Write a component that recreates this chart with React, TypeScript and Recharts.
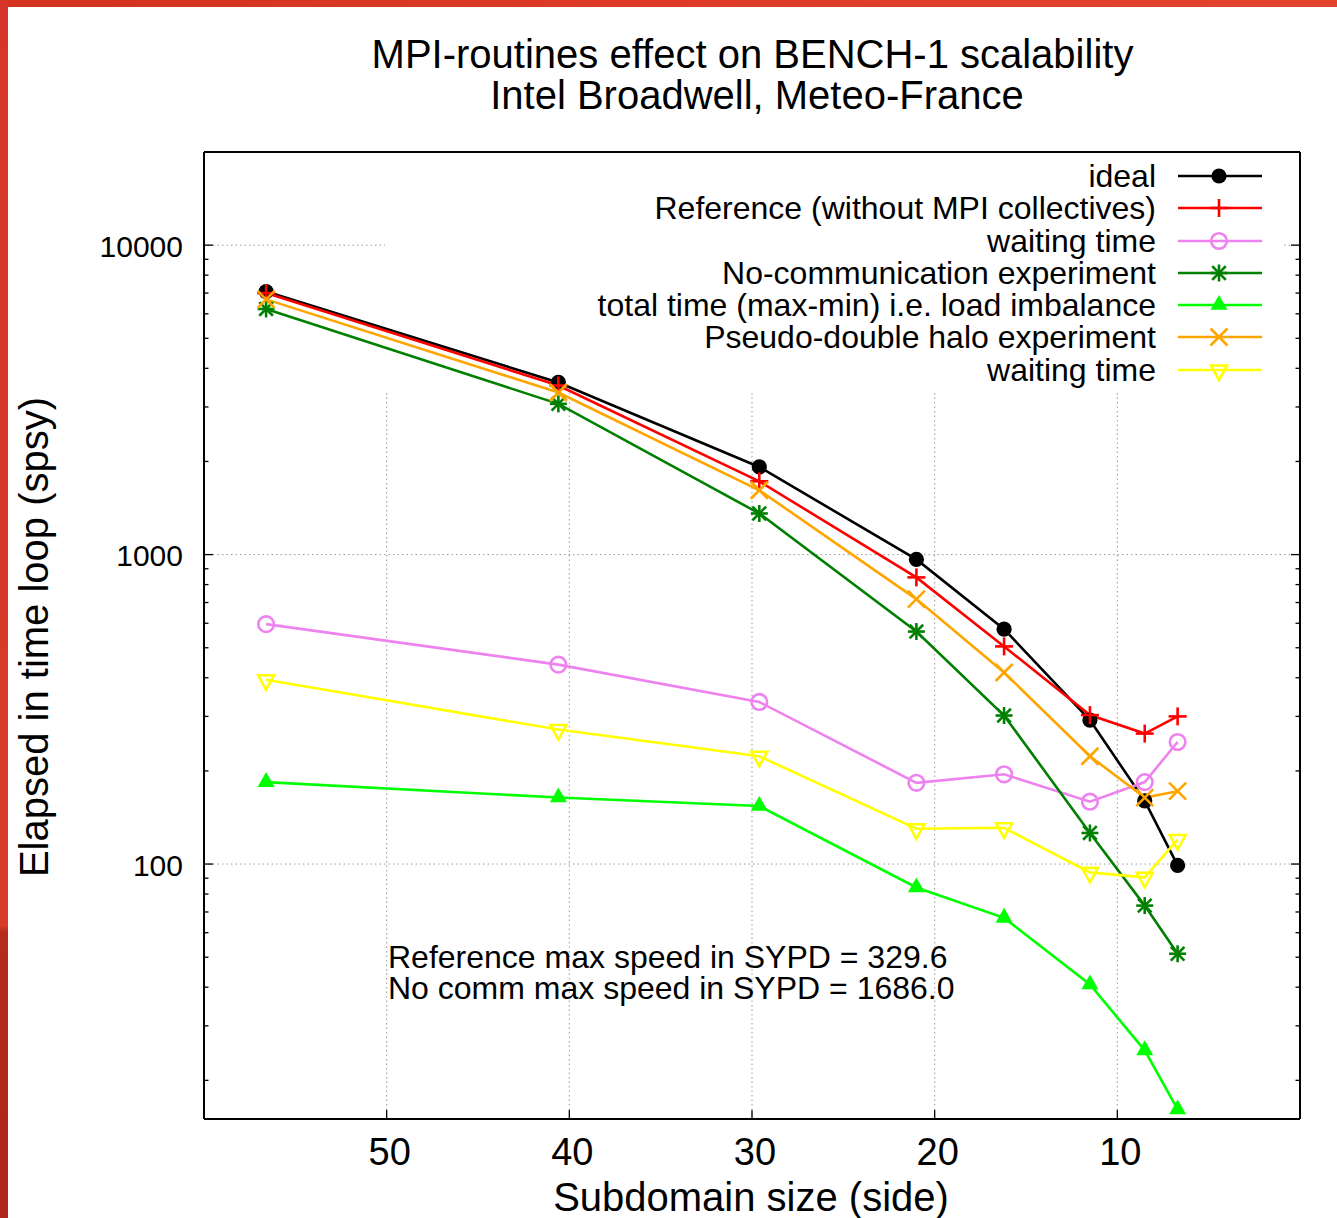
import React from 'react';
import { LineChart, Line, XAxis, YAxis, ReferenceLine, ReferenceArea, Legend } from 'recharts';

// ---- Data ----
const subdomainSide = [56.6, 40.6, 29.6, 21.0, 16.2, 11.5, 8.5, 6.7];
const idealTimes = [7080, 3600, 1920, 965, 574, 292, 160, 99];
const referenceTimes = [7000, 3520, 1725, 844, 505, 303, 264, 300];
const referenceWaiting = [596, 441, 334, 183, 195, 159, 184, 248];
const noCommTimes = [6220, 3070, 1358, 564, 302, 126, 73.4, 51.3];
const loadImbalance = [184, 164, 154, 84, 67, 40.8, 25.0, 16.1];
const haloTimes = [6680, 3340, 1614, 718, 416, 223, 164, 172];
const haloWaiting = [394, 272, 223, 130, 131, 94, 90.6, 120];

const xTicks = [10, 20, 30, 40, 50];
const yMajorTicks = [100, 1000, 10000];
const yAllTicks = [
  20, 30, 40, 50, 60, 70, 80, 90,
  100, 200, 300, 400, 500, 600, 700, 800, 900,
  1000, 2000, 3000, 4000, 5000, 6000, 7000, 8000, 9000,
  10000,
];

const titleLines = ['MPI-routines effect on BENCH-1 scalability', 'Intel Broadwell, Meteo-France'];
const xLabel = 'Subdomain size (side)';
const yLabel = 'Elapsed in time loop (spsy)';
const notes = ['Reference max speed in SYPD = 329.6', 'No comm max speed in SYPD = 1686.0'];

type MarkerType = 'dot' | 'plus' | 'circle' | 'star' | 'triUp' | 'cross' | 'triDown';

const series: { key: string; name: string; color: string; marker: MarkerType }[] = [
  { key: 'ideal', name: 'ideal', color: '#000000', marker: 'dot' },
  { key: 'reference', name: 'Reference (without MPI collectives)', color: '#ff0000', marker: 'plus' },
  { key: 'refWait', name: 'waiting time', color: '#ee82ee', marker: 'circle' },
  { key: 'noComm', name: 'No-communication experiment', color: '#008000', marker: 'star' },
  { key: 'imbalance', name: 'total time (max-min) i.e. load imbalance', color: '#00ff00', marker: 'triUp' },
  { key: 'halo', name: 'Pseudo-double halo experiment', color: '#ffa500', marker: 'cross' },
  { key: 'haloWait', name: 'waiting time', color: '#ffff00', marker: 'triDown' },
];

const data = subdomainSide.map((x, i) => ({
  x,
  ideal: idealTimes[i],
  reference: referenceTimes[i],
  refWait: referenceWaiting[i],
  noComm: noCommTimes[i],
  imbalance: loadImbalance[i],
  halo: haloTimes[i],
  haloWait: haloWaiting[i],
}));

const FONT = "'Liberation Sans', Arial, Helvetica, sans-serif";
const SW = 2.6;

function Marker({ type, cx, cy, color }: { type: MarkerType; cx?: number; cy?: number; color: string }) {
  if (cx == null || cy == null || isNaN(cx) || isNaN(cy)) return null;
  const h = 8.5;
  switch (type) {
    case 'dot':
      return <circle cx={cx} cy={cy} r={7.6} fill={color} />;
    case 'plus':
      return (
        <g stroke={color} strokeWidth={SW}>
          <line x1={cx - 9} y1={cy} x2={cx + 9} y2={cy} />
          <line x1={cx} y1={cy - 9} x2={cx} y2={cy + 9} />
        </g>
      );
    case 'circle':
      return <circle cx={cx} cy={cy} r={7.8} fill="none" stroke={color} strokeWidth={SW} />;
    case 'cross':
      return (
        <g stroke={color} strokeWidth={SW}>
          <line x1={cx - h} y1={cy - h} x2={cx + h} y2={cy + h} />
          <line x1={cx - h} y1={cy + h} x2={cx + h} y2={cy - h} />
        </g>
      );
    case 'star':
      return (
        <g stroke={color} strokeWidth={SW}>
          <line x1={cx - h} y1={cy} x2={cx + h} y2={cy} />
          <line x1={cx} y1={cy - h} x2={cx} y2={cy + h} />
          <line x1={cx - h * 0.8} y1={cy - h * 0.8} x2={cx + h * 0.8} y2={cy + h * 0.8} />
          <line x1={cx - h * 0.8} y1={cy + h * 0.8} x2={cx + h * 0.8} y2={cy - h * 0.8} />
        </g>
      );
    case 'triUp':
      return <polygon points={`${cx},${cy - 10} ${cx - 8.5},${cy + 4.8} ${cx + 8.5},${cy + 4.8}`} fill={color} />;
    case 'triDown':
      return (
        <polygon
          points={`${cx},${cy + 10} ${cx - 8},${cy - 4.5} ${cx + 8},${cy - 4.5}`}
          fill="none"
          stroke={color}
          strokeWidth={SW}
          strokeLinejoin="miter"
        />
      );
    default:
      return null;
  }
}

// ---- Axis ticks (inward, gnuplot style) ----
const YTickLeft = (props: any) => {
  const { x, y, payload } = props;
  const v = payload.value;
  const major = yMajorTicks.includes(v);
  return (
    <g>
      <line x1={x} y1={y} x2={x + (major ? 9 : 4.5)} y2={y} stroke="#000" strokeWidth={1.3} />
      {major && (
        <text x={x - 21} y={y + 11.5} textAnchor="end" fontSize={30} fontFamily={FONT} fill="#000">
          {v}
        </text>
      )}
    </g>
  );
};

const YTickRight = (props: any) => {
  const { x, y, payload } = props;
  const major = yMajorTicks.includes(payload.value);
  return (
    <g>
      <line x1={x} y1={y} x2={x - (major ? 9 : 4.5)} y2={y} stroke="#000" strokeWidth={1.3} />
    </g>
  );
};

const XTickBottom = (props: any) => {
  const { x, y, payload } = props;
  return (
    <g>
      <line x1={x} y1={y} x2={x} y2={y - 9} stroke="#000" strokeWidth={1.3} />
      <text x={x + 3} y={y + 46} textAnchor="middle" fontSize={38} fontFamily={FONT} fill="#000">
        {payload.value}
      </text>
    </g>
  );
};

const XTickTop = (props: any) => {
  const { x, y } = props;
  return (
    <g>
      <line x1={x} y1={y} x2={x} y2={y + 9} stroke="#000" strokeWidth={1.3} />
    </g>
  );
};

// ---- Legend (gnuplot-like key, right aligned, in plotting order) ----
const renderLegend = () => {
  return (
    <div style={{ width: 800, fontFamily: FONT, fontSize: 32, color: '#000' }}>
      {series.map((s, i) => (
        <div
          key={i}
          style={{ display: 'flex', justifyContent: 'flex-end', alignItems: 'center', height: 32.25 }}
        >
          <span style={{ lineHeight: '32px', whiteSpace: 'nowrap' }}>{s.name}</span>
          <svg width={106} height={32} style={{ display: 'block' }}>
            <line x1={22} y1={16} x2={106} y2={16} stroke={s.color} strokeWidth={SW} />
            <Marker type={s.marker} cx={63} cy={16} color={s.color} />
          </svg>
        </div>
      ))}
    </div>
  );
};

const gridStroke = '#9a9a9a';

export default function App() {
  return (
    <div
      style={{
        position: 'absolute',
        left: 0,
        top: 0,
        width: 1337,
        height: 1218,
        background: '#ffffff',
        overflow: 'hidden',
      }}
    >
      {/* slide frame */}
      <div
        style={{
          position: 'absolute',
          left: 0,
          top: 0,
          width: 1337,
          height: 7,
          background: 'linear-gradient(90deg, #d3321f 0%, #dd3b28 50%, #e3432d 100%)',
        }}
      />
      <div
        style={{
          position: 'absolute',
          left: 0,
          top: 0,
          width: 8,
          height: 1218,
          background: 'linear-gradient(180deg, #d6372a 0%, #d83b27 76%, #b52a1c 76.5%, #ad2619 100%)',
        }}
      />

      <div style={{ position: 'absolute', left: 0, top: 0 }}>
        <LineChart width={1337} height={1218} data={data} margin={{ top: 151, right: 0, bottom: 0, left: 0 }}>
          {/* major grid lines */}
          {xTicks.map((t) => (
            <ReferenceLine
              key={`gx${t}`}
              x={t}
              xAxisId="b"
              yAxisId="l"
              stroke={gridStroke}
              strokeWidth={1}
              strokeDasharray="1.5 3"
              zIndex={-100}
            />
          ))}
          {yMajorTicks.map((t) => (
            <ReferenceLine
              key={`gy${t}`}
              y={t}
              xAxisId="b"
              yAxisId="l"
              stroke={gridStroke}
              strokeWidth={1}
              strokeDasharray="1.5 3"
              zIndex={-100}
            />
          ))}
          {/* opaque key area hides the grid */}
          <ReferenceArea
            x1={50.1}
            x2={1}
            y1={3400}
            y2={20000}
            xAxisId="b"
            yAxisId="l"
            fill="#ffffff"
            fillOpacity={1}
            stroke="none"
            zIndex={-50}
          />

          <XAxis
            xAxisId="b"
            dataKey="x"
            type="number"
            domain={[0, 60]}
            reversed
            allowDataOverflow
            ticks={xTicks}
            interval={0}
            height={99}
            tickSize={0}
            tickMargin={0}
            tickLine={false}
            axisLine={{ stroke: '#000', strokeWidth: 2 }}
            tick={<XTickBottom />}
          />
          <XAxis
            xAxisId="t"
            orientation="top"
            type="number"
            domain={[0, 60]}
            reversed
            allowDataOverflow
            ticks={xTicks}
            interval={0}
            height={1}
            tickSize={0}
            tickMargin={0}
            tickLine={false}
            axisLine={{ stroke: '#000', strokeWidth: 2 }}
            tick={<XTickTop />}
          />
          <YAxis
            yAxisId="l"
            type="number"
            scale="log"
            domain={[15, 20000]}
            allowDataOverflow
            ticks={yAllTicks}
            interval={0}
            width={204}
            tickSize={0}
            tickMargin={0}
            tickLine={false}
            axisLine={{ stroke: '#000', strokeWidth: 2 }}
            tick={<YTickLeft />}
          />
          <YAxis
            yAxisId="r"
            orientation="right"
            type="number"
            scale="log"
            domain={[15, 20000]}
            allowDataOverflow
            ticks={yAllTicks}
            interval={0}
            width={37}
            tickSize={0}
            tickMargin={0}
            tickLine={false}
            axisLine={{ stroke: '#000', strokeWidth: 2 }}
            tick={<YTickRight />}
          />

          {series.map((s) => (
            <Line
              key={s.key}
              xAxisId="b"
              yAxisId="l"
              type="linear"
              dataKey={s.key}
              name={s.name}
              stroke={s.color}
              strokeWidth={SW}
              isAnimationActive={false}
              dot={(p: any) => (
                <Marker key={`${s.key}-${p.index}`} type={s.marker} cx={p.cx} cy={p.cy} color={s.color} />
              )}
              activeDot={false}
            />
          ))}

          <Legend
            layout="vertical"
            align="center"
            verticalAlign="middle"
            content={renderLegend}
            wrapperStyle={{ position: 'absolute', left: 462, top: 160, width: 800, height: 226 }}
          />
        </LineChart>
      </div>

      {/* titles, axis labels, notes */}
      <svg
        width={1337}
        height={1218}
        style={{ position: 'absolute', left: 0, top: 0, pointerEvents: 'none' }}
        fontFamily={FONT}
      >
        <text x={752.5} y={68} textAnchor="middle" fontSize={40} fill="#000">
          {titleLines[0]}
        </text>
        <text x={757} y={109} textAnchor="middle" fontSize={40} fill="#000">
          {titleLines[1]}
        </text>
        <text x={751} y={1211} textAnchor="middle" fontSize={40} fill="#000">
          {xLabel}
        </text>
        <text transform="translate(48,637) rotate(-90)" textAnchor="middle" fontSize={40} fill="#000">
          {yLabel}
        </text>
        <text x={388} y={968} fontSize={32} fill="#000">
          {notes[0]}
        </text>
        <text x={388} y={999} fontSize={32} fill="#000">
          {notes[1]}
        </text>
      </svg>
    </div>
  );
}
